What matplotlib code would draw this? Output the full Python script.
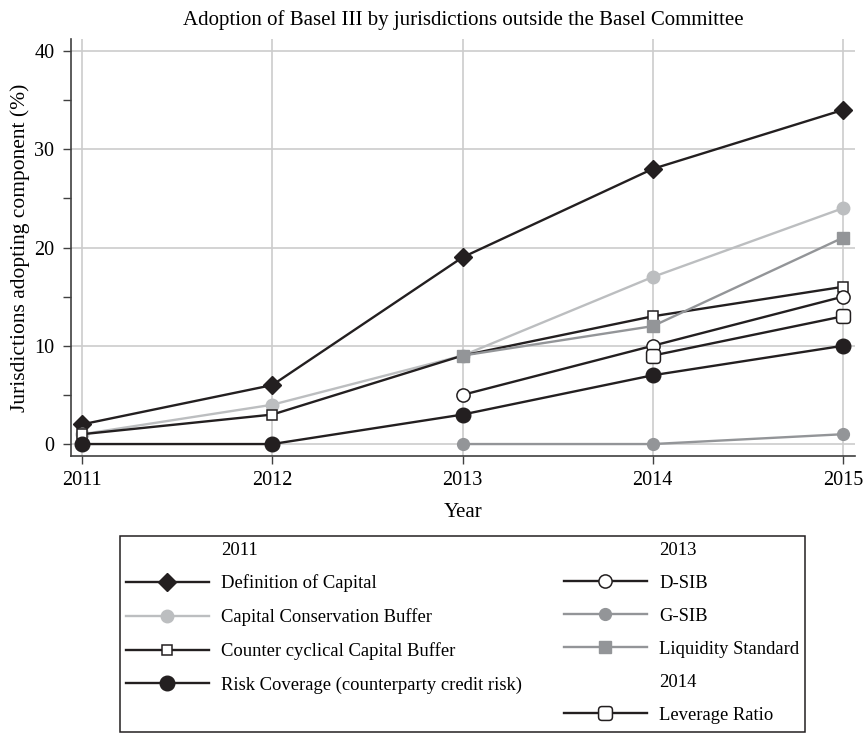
import numpy as np
import matplotlib
matplotlib.use('Agg')
import matplotlib.pyplot as plt
from matplotlib.lines import Line2D
from matplotlib.patches import BoxStyle

# values (% of jurisdictions adopting each component)
years_all = [2011, 2012, 2013, 2014, 2015]
years_2013 = [2013, 2014, 2015]
years_2014 = [2014, 2015]

definition_of_capital = [2, 6, 19, 28, 34]
capital_conservation = [1, 4, 9, 17, 24]
countercyclical_buffer = [1, 3, 9, 13, 16]
risk_coverage = [0, 0, 3, 7, 10]
d_sib = [5, 10, 15]
g_sib = [0, 0, 1]
liquidity_standard = [9, 12, 21]
leverage_ratio = [9, 13]

BLACK = '#231f20'
LIGHT = '#bcbec0'
MID = '#939598'

plt.rcParams['font.family'] = ['Liberation Serif', 'DejaVu Serif']
plt.rcParams['font.size'] = 13

# rounded square for the leverage ratio marker
rounded_square = BoxStyle.Round(pad=0, rounding_size=0.25)(-0.5, -0.5, 1, 1, 1)

fig = plt.figure(figsize=(8.63, 7.34), dpi=100)
ax = fig.add_axes([0.0823, 0.3787, 0.9084, 0.5682])

lw = 1.7
ax.plot(years_all, definition_of_capital, color=BLACK, lw=lw, marker='D', ms=9,
        mfc=BLACK, mec=BLACK, label='Definition of Capital', zorder=3)
ax.plot(years_all, capital_conservation, color=LIGHT, lw=lw, marker='o', ms=9,
        mfc=LIGHT, mec=LIGHT, label='Capital Conservation Buffer', zorder=3)
ax.plot(years_all, countercyclical_buffer, color=BLACK, lw=lw, marker='s', ms=7.5,
        mfc='white', mec=BLACK, mew=1.1, label='Counter cyclical Capital Buffer', zorder=3)
ax.plot(years_all, risk_coverage, color=BLACK, lw=lw, marker='o', ms=10.5,
        mfc=BLACK, mec=BLACK, label='Risk Coverage (counterparty credit risk)', zorder=3)
ax.plot(years_2013, d_sib, color=BLACK, lw=lw, marker='o', ms=9.5,
        mfc='white', mec=BLACK, mew=1.1, label='D-SIB', zorder=3)
ax.plot(years_2013, g_sib, color=MID, lw=lw, marker='o', ms=8.5,
        mfc=MID, mec=MID, label='G-SIB', zorder=3)
ax.plot(years_2013, liquidity_standard, color=MID, lw=lw, marker='s', ms=9,
        mfc=MID, mec=MID, label='Liquidity Standard', zorder=3)
ax.plot(years_2014, leverage_ratio, color=BLACK, lw=lw, marker=rounded_square, ms=10,
        mfc='white', mec=BLACK, mew=1.1, label='Leverage Ratio', zorder=3)

ax.set_xlim(2010.942, 2015.063)
ax.set_ylim(-1.22, 41.22)
ax.set_xticks(years_all)
ax.set_yticks([0, 10, 20, 30, 40])
ax.set_yticks([5, 15, 25, 35], minor=True)
ax.tick_params(axis='both', which='both', direction='out', length=6, width=1,
               color='#404040', labelsize=14.5)
ax.tick_params(axis='y', which='major', pad=6)
ax.tick_params(axis='x', which='major', pad=5)
ax.grid(True, which='major', color='#cccccc', lw=1.2, zorder=0)
for side in ['top', 'right']:
    ax.spines[side].set_visible(False)
for side in ['left', 'bottom']:
    ax.spines[side].set_color('#404040')
    ax.spines[side].set_linewidth(1.2)

ax.set_title('Adoption of Basel III by jurisdictions outside the Basel Committee',
             fontsize=15, pad=10)
ax.set_xlabel('Year', fontsize=15, labelpad=9)
ax.set_ylabel('Jurisdictions adopting component (%)', fontsize=15.5, labelpad=3)

# legend grouped by year of introduction
lines = ax.get_lines()
blank = Line2D([], [], linestyle='none')
handles = [blank, lines[0], lines[1], lines[2], lines[3], blank,
           blank, lines[4], lines[5], lines[6], blank, lines[7]]
labels = ['2011', 'Definition of Capital', 'Capital Conservation Buffer',
          'Counter cyclical Capital Buffer', 'Risk Coverage (counterparty credit risk)', '',
          '2013', 'D-SIB', 'G-SIB', 'Liquidity Standard', '2014', 'Leverage Ratio']
leg = fig.legend(handles, labels, ncol=2, loc='upper left', mode='expand',
                 bbox_to_anchor=(0.139, 0.0, 0.794, 0.2698), bbox_transform=fig.transFigure,
                 borderaxespad=0, fontsize=13.4, handlelength=4.5, handletextpad=0.65,
                 labelspacing=0.86, borderpad=0.3, fancybox=False, framealpha=1)
leg.get_frame().set_edgecolor(BLACK)
leg.get_frame().set_linewidth(1.1)

fig.savefig('out.png', dpi=100)
